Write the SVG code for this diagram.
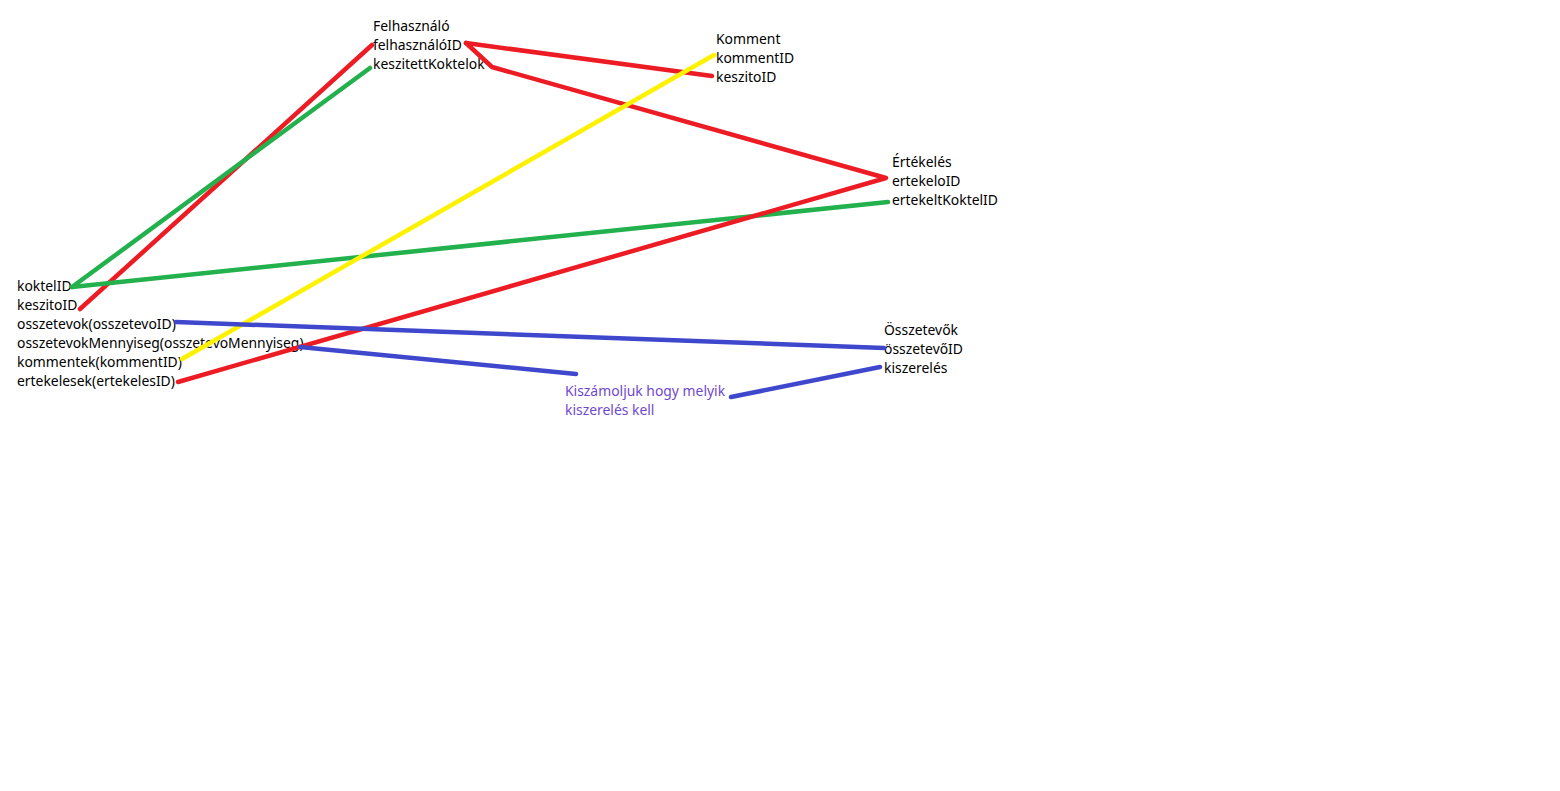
<svg xmlns="http://www.w3.org/2000/svg" width="1560" height="791" viewBox="0 0 1560 791">
<style>
text{font-family:"Noto Sans","Open Sans",sans-serif;font-size:13.9px;fill:#000}
.note{fill:#7048d0}
.c{fill:none;stroke-width:4.5;stroke-linecap:round;stroke-linejoin:round}
.r{stroke:#ed1c24}.g{stroke:#22b14c}.y{stroke:#fff200}.b{stroke:#3f48cc}
</style>
<rect width="1560" height="791" fill="#fff"/>
<g id="koktel">
<text x="17" y="291">koktelID</text>
<text x="17" y="310">keszitoID</text>
<text x="17" y="329">osszetevok(osszetevoID)</text>
<text x="17" y="348">osszetevokMennyiseg(osszetevoMennyiseg)</text>
<text x="17" y="367">kommentek(kommentID)</text>
<text x="17" y="386">ertekelesek(ertekelesID)</text>
</g>
<g id="felhasznalo">
<text x="373" y="31">Felhasználó</text>
<text x="373" y="50">felhasználóID</text>
<text x="373" y="69">keszitettKoktelok</text>
</g>
<g id="komment">
<text x="716" y="44">Komment</text>
<text x="716" y="63">kommentID</text>
<text x="716" y="82">keszitoID</text>
</g>
<g id="ertekeles">
<text x="892" y="167">Értékelés</text>
<text x="892" y="186">ertekeloID</text>
<text x="892" y="205">ertekeltKoktelID</text>
</g>
<g id="osszetevok">
<text x="884" y="335">Összetevők</text>
<text x="884" y="354">összetevőID</text>
<text x="884" y="373">kiszerelés</text>
</g>
<g id="megjegyzes">
<text class="note" x="565" y="396">Kiszámoljuk hogy melyik</text>
<text class="note" x="565" y="415">kiszerelés kell</text>
</g>
<g id="connectors">
<line class="c r" x1="80" y1="309" x2="372" y2="45"/>
<line class="c g" x1="72" y1="287" x2="370" y2="68"/>
<line class="c g" x1="72" y1="287" x2="888" y2="202"/>
<line class="c r" x1="466" y1="43" x2="712" y2="76"/>
<polyline class="c r" points="466,43 492,67 886,178 178,382"/>
<line class="c y" x1="182" y1="359" x2="714" y2="55"/>
<line class="c b" x1="176" y1="322" x2="884" y2="348"/>
<line class="c b" x1="300" y1="347" x2="576" y2="374"/>
<line class="c b" x1="731" y1="397" x2="880" y2="367"/>
</g>
</svg>
